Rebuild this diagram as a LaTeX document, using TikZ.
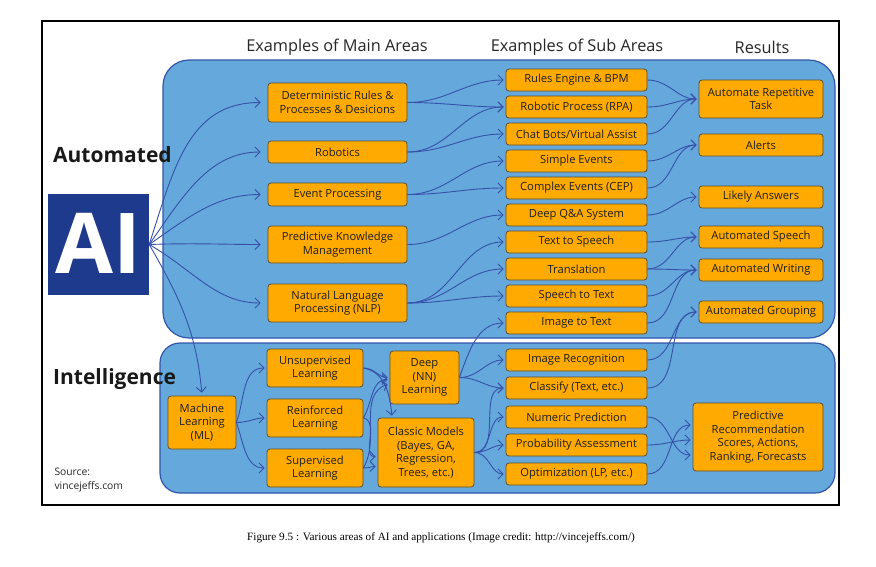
\documentclass[tikz,border=0pt]{standalone}
\usepackage{fontspec}
\setmainfont{Open Sans}
\newfontfamily\capfont{Liberation Serif}
\usetikzlibrary{arrows.meta}
\definecolor{panel}{RGB}{100,168,220}
\definecolor{panelb}{RGB}{50,85,170}
\definecolor{orng}{RGB}{255,170,0}
\definecolor{boxb}{RGB}{95,80,50}
\definecolor{arrc}{RGB}{55,80,170}
\definecolor{aiblue}{RGB}{30,58,140}
\begin{document}
\begin{tikzpicture}[x=1pt,y=-1pt,
 box/.style={draw=boxb, fill=orng, rounded corners=3pt, line width=0.8pt, align=center, inner sep=0pt, font=\fontsize{11.2}{13.6}\selectfont, text=black!88},
 sub/.style={box, minimum width=141pt, minimum height=22pt},
 res/.style={box, minimum width=124pt, minimum height=22pt},
 mainb/.style={box, minimum width=139pt},
 link/.style={draw=arrc, line width=0.9pt, -{Straight Barb[length=5pt,width=10pt]}, shorten >=2pt},
 panelbox/.style={draw=panelb, fill=panel, line width=1.2pt},
 hdr/.style={font=\fontsize{16.3}{18}\selectfont, text=black!85},
 big/.style={font=\fontsize{21}{24}\selectfont\bfseries, text=black!90, anchor=west, inner sep=0pt},
]
\useasboundingbox (0,0) rectangle (876,566);
\fill[white] (0,0) rectangle (876,566);
\draw[line width=2.2pt] (42,21) rectangle (839,505);

% panels
\draw[panelbox, rounded corners=26pt] (163,60) rectangle (835,338);
\draw[panelbox, rounded corners=20pt] (160,343) rectangle (835,493);

% headers
\node[hdr] (h1) at (337,47) {Examples of Main Areas};
\node[hdr] (h2) at (577,47) {Examples of Sub Areas};
\node[hdr] (h3) at (762,47) {Results};

% left labels
\node[big] (lauto) at (53,155) {Automated};
\node[big] (lint) at (53,379) {Intelligence};
\node[align=left, anchor=west, font=\fontsize{10.3}{13.5}\selectfont, text=black!85] (src) at (51,480) {Source:\\vincejeffs.com};

% AI box
\node[fill=aiblue, minimum width=101pt, minimum height=101pt, inner sep=0pt] (ai) at (98.5,244.5) {};
\node[text=white, font=\fontsize{84}{84}\selectfont\bfseries, inner sep=0pt] (ait) at (98,243) {AI};

% main areas
\node[mainb, minimum height=39pt] (dr) at (337.5,102.5) {Deterministic Rules \&\\Processes \& Desicions};
\node[mainb, minimum height=22pt] (rb) at (337.5,152) {Robotics};
\node[mainb, minimum height=23pt] (ep) at (337.5,194.5) {Event Processing};
\node[mainb, minimum height=37pt] (pk) at (337.5,244.5) {Predictive Knowledge\\Management};
\node[mainb, minimum height=38pt] (nlp) at (337.5,303) {Natural Language\\Processing (NLP)};

% sub areas
\node[sub] (re) at (576.5,80) {Rules Engine \& BPM};
\node[sub] (rpa) at (576.5,107) {Robotic Process (RPA)};
\node[sub] (cb) at (576.5,134) {Chat Bots/Virtual Assist};
\node[sub] (se) at (576.5,161) {Simple Events};
\node[sub] (ce) at (576.5,188) {Complex Events (CEP)};
\node[sub] (qa) at (576.5,215) {Deep Q\&A System};
\node[sub] (tts) at (576.5,242) {Text to Speech};
\node[sub] (tr) at (576.5,269) {Translation};
\node[sub] (stt) at (576.5,296) {Speech to Text};
\node[sub] (itt) at (576.5,323) {Image to Text};
\node[sub] (ir) at (576.5,360) {Image Recognition};
\node[sub] (cl) at (576.5,388) {Classify (Text, etc.)};
\node[sub] (np) at (576.5,417) {Numeric Prediction};
\node[sub] (pa) at (576.5,445) {Probability Assessment};
\node[sub] (op) at (576.5,474) {Optimization (LP, etc.)};

% results
\node[res, minimum height=38pt] (art) at (761,99) {Automate Repetitive\\Task};
\node[res] (al) at (761,145) {Alerts};
\node[res] (la) at (761,197) {Likely Answers};
\node[res] (as) at (761,237) {Automated Speech};
\node[res] (aw) at (761,270) {Automated Writing};
\node[res] (ag) at (761,312) {Automated Grouping};
\node[box, minimum width=130pt, minimum height=68pt] (pr) at (758,437) {Predictive\\Recommendation\\Scores, Actions,\\Ranking, Forecasts};

% intelligence
\node[box, minimum width=68pt, minimum height=53pt] (ml) at (202,422.5) {Machine\\Learning\\(ML)};
\node[box, minimum width=96pt, minimum height=38pt] (us) at (315,368) {Unsupervised\\Learning};
\node[box, minimum width=96pt, minimum height=38pt] (rl) at (315,418) {Reinforced\\Learning};
\node[box, minimum width=96pt, minimum height=38pt] (sl) at (315,468) {Supervised\\Learning};
\node[box, minimum width=69pt, minimum height=53pt] (dp) at (424.5,377.5) {Deep\\(NN)\\Learning};
\node[box, minimum width=96pt, minimum height=69pt] (cm) at (426,452.5) {Classic Models\\(Bayes, GA,\\Regression,\\Trees, etc.)};

% AI arrows
\draw[link, shorten >=7pt] (ai.east) to[out=72,in=180,looseness=1.1] (dr.west);
\draw[link, shorten >=7pt] (ai.east) to[out=55,in=180] (rb.west);
\draw[link, shorten >=7pt] (ai.east) to[out=35,in=180] (ep.west);
\draw[link, shorten >=7pt] (ai.east) to[out=2,in=180] (pk.west);
\draw[link, shorten >=7pt] (ai.east) to[out=-30,in=180] (nlp.west);
\draw[link, shorten >=3pt] (ai.east) to[out=-60,in=95] (ml.north);

% main -> sub
\draw[link] (dr.east) to[out=0,in=180] (re.west);
\draw[link] (dr.east) to[out=0,in=180] (rpa.west);
\draw[link] (rb.east) to[out=0,in=180] (rpa.west);
\draw[link] (rb.east) to[out=0,in=180] (cb.west);
\draw[link] (ep.east) to[out=0,in=180] (se.west);
\draw[link] (ep.east) to[out=0,in=180] (ce.west);
\draw[link] (pk.east) to[out=0,in=180] (qa.west);
\draw[link] (nlp.east) to[out=0,in=180] (tts.west);
\draw[link] (nlp.east) to[out=0,in=180] (tr.west);
\draw[link] (nlp.east) to[out=0,in=180] (stt.west);

% sub -> results
\draw[link] (re.east) to[out=0,in=180] (art.west);
\draw[link] (rpa.east) to[out=0,in=180] (art.west);
\draw[link] (cb.east) to[out=0,in=180] (art.west);
\draw[link] (se.east) to[out=0,in=180] (al.west);
\draw[link] (ce.east) to[out=0,in=180] (al.west);
\draw[link] (qa.east) to[out=0,in=180] (la.west);
\draw[link] (tts.east) to[out=0,in=180] (as.west);
\draw[link] (tr.east) to[out=0,in=180] (as.west);
\draw[link] (tr.east) to[out=0,in=180] (aw.west);
\draw[link] (stt.east) to[out=0,in=180] (aw.west);
\draw[link] (itt.east) to[out=0,in=180] (aw.west);
\draw[link] (ir.east) to[out=0,in=180] (ag.west);
\draw[link] (cl.east) to[out=0,in=180] (ag.west);
\draw[link] (np.east) to[out=0,in=180] ([yshift=-18pt]pr.west);
\draw[link] (pa.east) to[out=0,in=180] ([yshift=-3pt]pr.west);
\draw[link] (op.east) to[out=0,in=180] ([yshift=12pt]pr.west);

% intelligence links
\draw[link] (ml.east) to[out=70,in=180] (us.west);
\draw[link] (ml.east) to[out=0,in=180] (rl.west);
\draw[link] (ml.east) to[out=-70,in=180] (sl.west);
\draw[link] (us.east) to[out=0,in=180] (dp.west);
\draw[link] (us.east) to[out=-10,in=95] ([xshift=-34pt]cm.north);
\draw[link] (rl.east) to[out=-10,in=180] ([yshift=-4pt]cm.west);
\draw[link] (sl.east) to[out=0,in=180] ([yshift=-14pt]cm.west);
\draw[link] (rl.east) to[out=60,in=180] ([yshift=-2pt]dp.west);
\draw[link] (sl.east) to[out=60,in=200] ([yshift=-6pt]dp.west);
\draw[link] (dp.east) to[out=0,in=180] (ir.west);
\draw[link] (dp.east) to[out=0,in=180] (cl.west);
\draw[link] (dp.east) to[out=70,in=180] (itt.west);
\draw[link] (cm.east) to[out=0,in=180] (cl.west);
\draw[link] (cm.east) to[out=0,in=180] (np.west);
\draw[link] (cm.east) to[out=0,in=180] (pa.west);
\draw[link] (cm.east) to[out=0,in=180] (op.west);

% caption
\node[font=\capfont\fontsize{11.2}{13}\selectfont] (cap) at (441,538) {Figure 9.5 : Various areas of AI and applications (Image credit: http://vincejeffs.com/)};
\end{tikzpicture}
\end{document}
